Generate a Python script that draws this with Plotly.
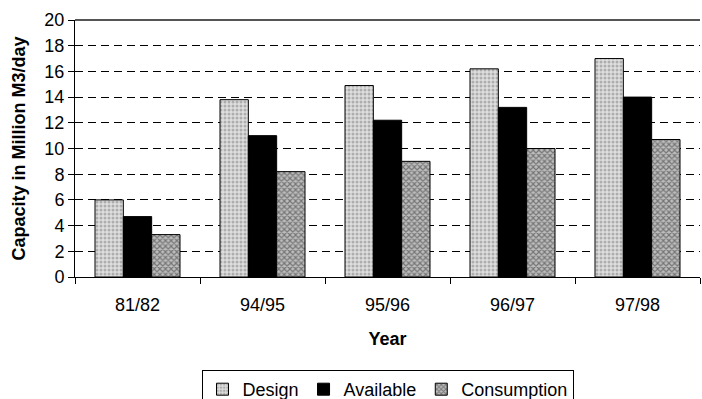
import plotly.graph_objects as go

years = ["81/82", "94/95", "95/96", "96/97", "97/98"]
design = [6.0, 13.8, 14.9, 16.2, 17.0]
available = [4.7, 11.0, 12.2, 13.2, 14.0]
consumption = [3.3, 8.2, 9.0, 10.0, 10.7]
y_ticks = list(range(0, 21, 2))

FONT = "Liberation Sans, Arial, sans-serif"

fig = go.Figure()
fig.add_trace(go.Bar(
    name="Design", x=years, y=design,
    marker=dict(color="#d4d4d4", line=dict(color="black", width=1),
                pattern=dict(shape=".", fgcolor="#7c7c7c", bgcolor="#dedede",
                             size=4, solidity=0.45)),
))
fig.add_trace(go.Bar(
    name="Available", x=years, y=available,
    marker=dict(color="black", line=dict(color="black", width=1)),
))
fig.add_trace(go.Bar(
    name="Consumption", x=years, y=consumption,
    marker=dict(color="#8e8e8e", line=dict(color="black", width=1),
                pattern=dict(shape="x", fgcolor="#2e2e2e", bgcolor="#bdbdbd",
                             size=4, solidity=0.5)),
))

fig.update_layout(
    width=702, height=399,
    margin=dict(l=75, r=2, t=20, b=122, autoexpand=False),
    paper_bgcolor="white", plot_bgcolor="white",
    barmode="group", bargap=0.32, bargroupgap=0,
    font=dict(family=FONT, size=18, color="black"),
    showlegend=True,
    legend=dict(orientation="h", x=0.5, xanchor="center",
                yref="container", y=1 - 370 / 399, yanchor="top",
                bordercolor="black", borderwidth=1, bgcolor="white",
                font=dict(size=18), itemwidth=30,
                traceorder="normal"),
    xaxis=dict(
        type="category", showline=True, linecolor="black", linewidth=1,
        ticks="outside", ticklen=6, tickcolor="black", tickson="boundaries",
        showgrid=False, ticklabelstandoff=11,
        title=dict(text="<b>Year</b>", font=dict(size=18), standoff=18),
        tickfont=dict(size=18),
    ),
    yaxis=dict(
        range=[0, 20], tickvals=y_ticks, showline=True, linecolor="black", linewidth=1,
        ticks="outside", ticklen=6, tickcolor="black",
        showgrid=True, gridcolor="black", gridwidth=1, griddash="8px,5px",
        zeroline=False,
        title=dict(text="<b>Capacity in Million M3/day</b>", font=dict(size=18), standoff=14),
        tickfont=dict(size=18),
    ),
)

# solid frame line across the top of the plot area
fig.add_shape(type="line", xref="paper", yref="paper", x0=0, x1=1, y0=1, y1=1,
              line=dict(color="#555555", width=2))

fig.write_html("out.html")
